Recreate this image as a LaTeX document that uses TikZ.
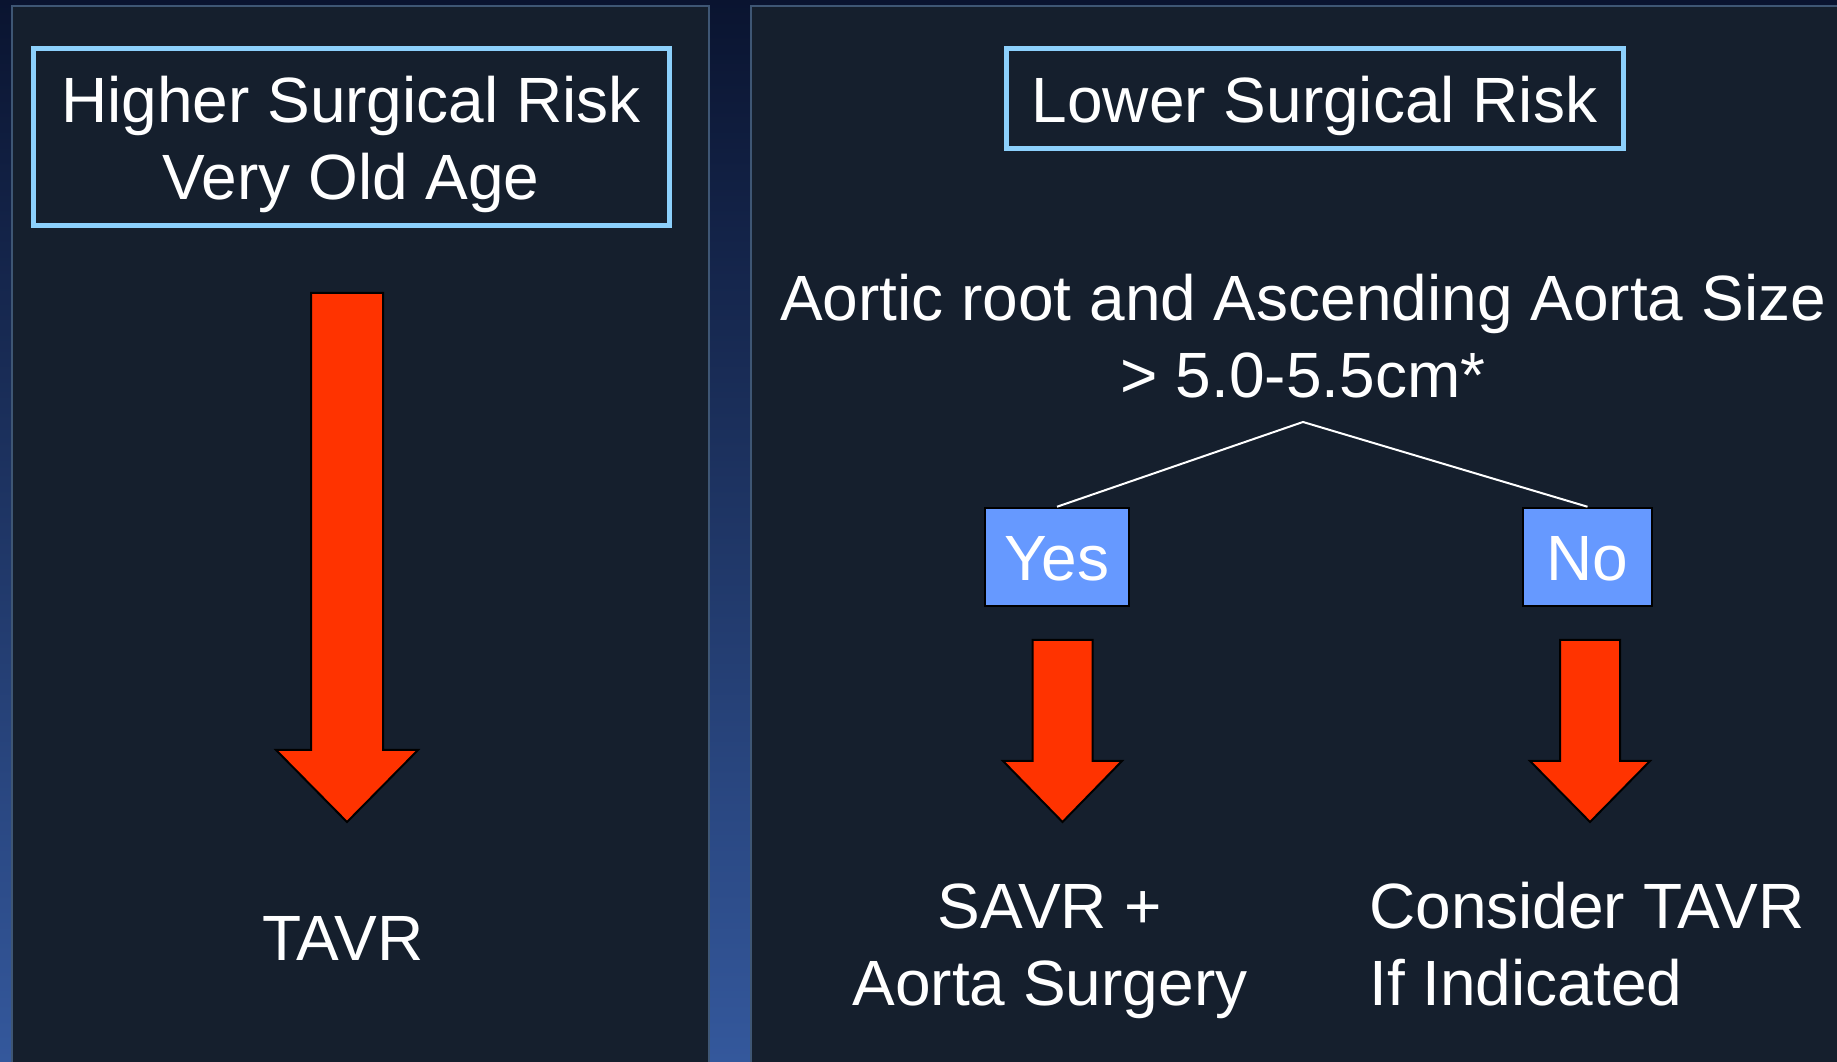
\documentclass[tikz,border=0pt]{standalone}
\usepackage{fontspec}
\setmainfont{Liberation Sans}
\definecolor{bgtop}{HTML}{0A1430}
\definecolor{bgbot}{HTML}{34589C}
\definecolor{panelfill}{HTML}{151F2D}
\definecolor{paneledge}{HTML}{3E5674}
\definecolor{skyedge}{HTML}{8CD0FC}
\definecolor{choicefill}{HTML}{6699FF}
\definecolor{arrowred}{HTML}{FF3300}
% downward block arrow: x, shaft half-width, head half-width, top, neck, tip
\newcommand\dropArrow[6]{%
  \draw[bigarrow] (#1-#2,#4) -- (#1+#2,#4) -- (#1+#2,#5) -- (#1+#3,#5)
    -- (#1,#6) -- (#1-#3,#5) -- (#1-#2,#5) -- cycle;}
\begin{document}
\begin{tikzpicture}[x=1pt,y=1pt,
  panel/.style={fill=panelfill, draw=paneledge, line width=2.5},
  riskbox/.style={draw=skyedge, line width=5, fill=panelfill, inner sep=0},
  txt/.style={text=white, font=\fontsize{64}{77}\selectfont, align=center, inner sep=0},
  choice/.style={fill=choicefill, draw=black, line width=2.5, inner sep=0},
  bigarrow/.style={fill=arrowred, draw=black, line width=2, line join=miter},
  branch/.style={draw=white, line width=2}]
\useasboundingbox (0,0) rectangle (1837,1061);
\shade[top color=bgtop, bottom color=bgbot] (0,0) rectangle (1837,1061);

% two panels
\draw[panel] (12,-10) rectangle (709,1055);
\draw[panel] (751,-10) rectangle (1850,1055);

% left panel (multi-line texts are anchored at the baseline of their last line)
\node[riskbox, minimum width=636, minimum height=177] (hibox) at (351,923.5) {};
\node[txt, anchor=base] (hitext) at (351,861) {Higher Surgical Risk\\Very Old Age};
\dropArrow{347}{36}{71}{768}{311}{239}
\node[txt, anchor=base] (tavr) at (343,101) {TAVR};

% right panel
\node[riskbox, minimum width=617, minimum height=100] (lobox) at (1314.5,962) {};
\node[txt, anchor=base] (lotext) at (1314.5,938) {Lower Surgical Risk};
\node[txt, anchor=base] (aorta) at (1303,663) {Aortic root and Ascending Aorta Size\\> 5.0-5.5cm*};
\coordinate (apex) at (1303,639);

\node[choice, minimum width=144, minimum height=98] (yes) at (1057,504) {};
\node[txt, anchor=base] at (1057,480) {Yes};
\node[choice, minimum width=129, minimum height=98] (no) at (1587.5,504) {};
\node[txt, anchor=base] at (1587.5,480) {No};
\draw[branch] (yes.north) -- (apex) -- (no.north);

\dropArrow{1062.5}{30}{59.5}{421}{300}{239}
\dropArrow{1590}{30}{60}{421}{300}{239}

\node[txt, anchor=base] (savr) at (1050,56) {SAVR +\\Aorta Surgery};
\node[txt, anchor=base west, align=left] (consider) at (1369,56) {Consider TAVR\\If Indicated};
\end{tikzpicture}
\end{document}
